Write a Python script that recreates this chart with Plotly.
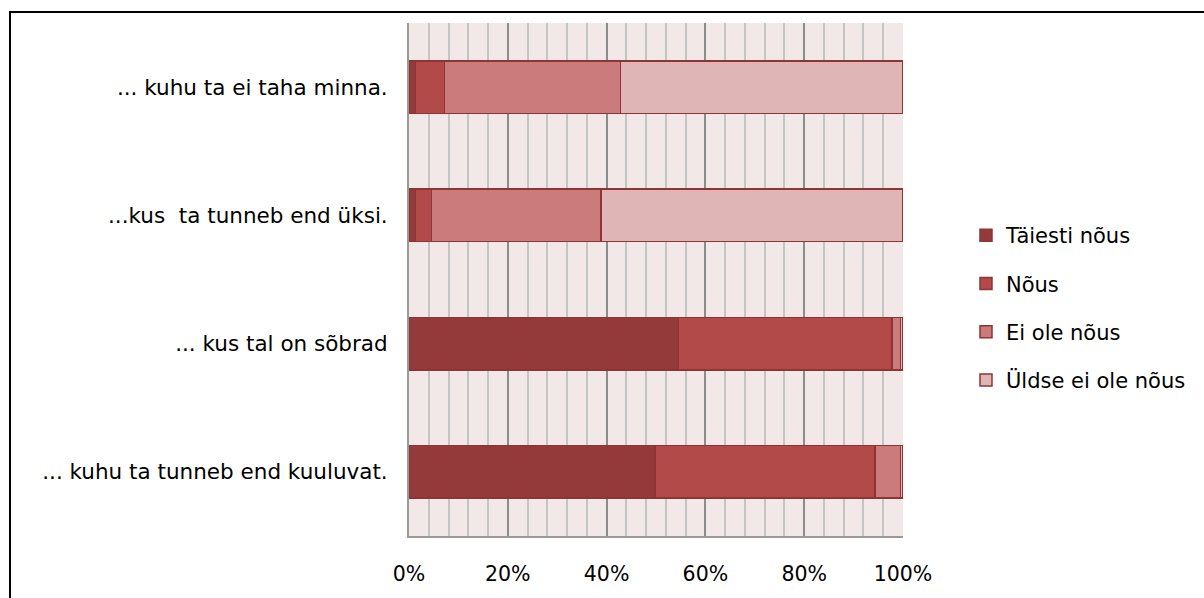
import plotly.graph_objects as go

# Statements, listed bottom to top as they appear on the y axis
categories = [
    "... kuhu ta tunneb end kuuluvat.",
    "... kus tal on sõbrad",
    "...kus  ta tunneb end üksi.",
    "... kuhu ta ei taha minna.",
]

# Share of answers (%) per statement, same order as categories
taiesti_nous = [49.8, 54.6, 1.3, 1.3]
nous = [44.5, 43.2, 3.3, 5.9]
ei_ole_nous = [5.2, 1.7, 34.3, 35.6]
uldse_ei_ole_nous = [0.5, 0.5, 61.1, 57.2]

series_names = ["Täiesti nõus", "Nõus", "Ei ole nõus", "Üldse ei ole nõus"]
series_values = [taiesti_nous, nous, ei_ole_nous, uldse_ei_ole_nous]
series_colors = ["#953a3a", "#b34a4a", "#cb7b7b", "#dfb5b6"]

x_tick_vals = [0, 20, 40, 60, 80, 100]
x_tick_text = ["0%", "20%", "40%", "60%", "80%", "100%"]

FONT = "'DejaVu Sans', sans-serif"

fig = go.Figure()
for name, vals, col in zip(series_names, series_values, series_colors):
    fig.add_trace(go.Bar(
        y=categories,
        x=vals,
        name=name,
        orientation="h",
        legendgroup=name,
        marker=dict(color=col, line=dict(color="#8e3434", width=1.5)),
    ))

fig.update_layout(
    barmode="stack",
    bargap=0.59,
    width=1204,
    height=598,
    margin=dict(l=409, r=301, t=23, b=59),
    paper_bgcolor="white",
    plot_bgcolor="#f2e8e8",
    font=dict(family=FONT, size=20, color="#000000"),
    showlegend=True,
    legend=dict(
        traceorder="grouped",
        tracegroupgap=18,
        xref="container",
        yref="container",
        x=966 / 1204,
        y=1 - 215 / 598,
        xanchor="left",
        yanchor="top",
        font=dict(family=FONT, size=21, color="#000000"),
        itemwidth=30,
        bgcolor="rgba(0,0,0,0)",
    ),
    xaxis=dict(
        range=[0, 100],
        tickvals=x_tick_vals,
        ticktext=x_tick_text,
        tickfont=dict(family=FONT, size=20.5),
        showgrid=True,
        gridcolor="#8c8c8c",
        gridwidth=2,
        minor=dict(dtick=4, showgrid=True, gridcolor="#c4c4c4", gridwidth=2),
        zeroline=False,
        showline=True,
        linecolor="#9a9a9a",
        linewidth=2,
        ticks="",
        ticklabelstandoff=18,
        fixedrange=True,
    ),
    yaxis=dict(
        categoryorder="array",
        categoryarray=categories,
        tickfont=dict(family=FONT, size=21.5),
        showgrid=False,
        zeroline=False,
        showline=True,
        linecolor="#9a9a9a",
        linewidth=2,
        ticks="",
        ticklabelstandoff=15,
        fixedrange=True,
    ),
    shapes=[
        dict(
            type="rect",
            xref="paper", yref="paper",
            x0=(10 - 409) / 494, x1=(1215 - 409) / 494,
            y0=-(620 - 539) / 516, y1=1 + (23 - 12) / 516,
            line=dict(color="black", width=2),
            fillcolor="rgba(0,0,0,0)",
            layer="above",
        )
    ],
)

fig.write_html("out.html")
